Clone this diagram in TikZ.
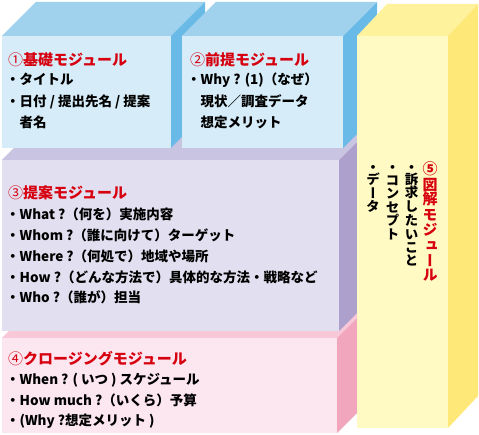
\documentclass[tikz,border=0pt]{standalone}
\usepackage{fontspec}
\newfontfamily\jp{Noto Sans CJK JP}
\newfontfamily\vjp{Noto Sans CJK JP}[RawFeature=+vert]
\makeatletter
\newcommand\tate[1]{\vbox{\offinterlineskip\@tfor\tatech:=#1\do{\hbox to 1em{\hss\vbox to 1em{\vss\hbox{\tatech}\kern0.12em}\hss}}}}
\makeatother
\newcommand\circnum[1]{{\mdseries #1}}
\definecolor{titred}{HTML}{D7000F}
\definecolor{bfront}{HTML}{D6EDF9}
\definecolor{btop}{HTML}{A0D1ED}
\definecolor{bside}{HTML}{6ABAE8}
\definecolor{lfront}{HTML}{E2E0F0}
\definecolor{ltop}{HTML}{C9C4E2}
\definecolor{lside}{HTML}{AEA0CC}
\definecolor{pfront}{HTML}{FCE6F0}
\definecolor{ptop}{HTML}{F8C8D8}
\definecolor{pside}{HTML}{F2A6BE}
\definecolor{yfront}{HTML}{FFFAC4}
\definecolor{ytop}{HTML}{FEF29C}
\definecolor{yside}{HTML}{FEE878}
\tikzset{
  ttl/.style={anchor=base west, inner sep=0pt, text=titred, font=\jp\bfseries\fontsize{15}{18}\selectfont},
  itm/.style={anchor=base west, inner sep=0pt, text=black, font=\jp\bfseries\fontsize{13.5}{16}\selectfont},
  vttl/.style={anchor=north, inner sep=0pt, text=titred, font=\vjp\bfseries\fontsize{15}{15}\selectfont},
  vitm/.style={anchor=north, inner sep=0pt, text=black, font=\vjp\bfseries\fontsize{13.5}{13.5}\selectfont},
}
\begin{document}
\begin{tikzpicture}[x=1pt,y=-1pt]
\useasboundingbox (0,0) rectangle (479,435);
% box 4 (pink)
\fill[ptop] (2,338) -- (337,338) -- (370,305) -- (35,305) -- cycle;
\fill[pside] (337,338) -- (370,305) -- (370,400) -- (337,433) -- cycle;
\fill[pfront] (2,338) rectangle (337,433);
% box 3 (lavender)
\fill[ltop] (2,160) -- (339,160) -- (372,127) -- (35,127) -- cycle;
\fill[lside] (339,160) -- (372,127) -- (372,298) -- (339,331) -- cycle;
\fill[lfront] (2,160) rectangle (339,331);
% box 1 (blue)
\fill[btop] (2,36) -- (171,36) -- (205,2) -- (36,2) -- cycle;
\fill[bside] (171,36) -- (205,2) -- (205,114) -- (171,148) -- cycle;
\fill[bfront] (2,36) rectangle (171,148);
% box 2 (blue)
\fill[btop] (182,36) -- (343,36) -- (377,2) -- (216,2) -- cycle;
\fill[bside] (343,36) -- (377,2) -- (377,114) -- (343,148) -- cycle;
\fill[bfront] (182,36) rectangle (343,148);
% column 5 (yellow)
\fill[ytop] (357,36) -- (448,36) -- (478,4) -- (387,4) -- cycle;
\fill[yside] (448,36) -- (478,4) -- (478,396) -- (448,428) -- cycle;
\fill[yfront] (357,36) rectangle (448,428);
% texts box 1
\node[ttl] (t1) at (8,65.5) {\circnum{①}基礎モジュール};
\node[itm] (a1) at (6,85) {・タイトル};
\node[itm] (a2) at (6,106.5) {・日付 / 提出先名 / 提案};
\node[itm] (a3) at (19.5,128) {者名};
% box 2
\node[ttl] (t2) at (190,65.5) {\circnum{②}前提モジュール};
\node[itm] (b1) at (187,85) {・Why ? (1)（なぜ）};
\node[itm] (b2) at (200.5,106.5) {現状／調査データ};
\node[itm] (b3) at (200.5,128) {想定メリット};
% box 3
\node[ttl] (t3) at (8,199) {\circnum{③}提案モジュール};
\node[itm] (c1) at (6,220) {・What ?（何を）実施内容};
\node[itm] (c2) at (6,241) {・Whom ?（誰に向けて）ターゲット};
\node[itm] (c3) at (6,262) {・Where ?（何処で）地域や場所};
\node[itm] (c4) at (6,282.5) {・How ?（どんな方法で）具体的な方法・戦略など};
\node[itm] (c5) at (6,303) {・Who ?（誰が）担当};
% box 4
\node[ttl] (t4) at (8,364) {\circnum{④}クロージングモジュール};
\node[itm] (d1) at (6,384.5) {・When ? ( いつ ) スケジュール};
\node[itm] (d2) at (6,405) {・How much ?（いくら）予算};
\node[itm] (d3) at (6,425.5) {・(Why ?想定メリット )};
% column 5 vertical texts
\node[vttl] (t5) at (430,163) {\tate{⑤図解モジュール}};
\node[vitm] (e1) at (411.5,160) {\tate{・訴求したいこと}};
\node[vitm] (e2) at (392.5,160) {\tate{・コンセプト}};
\node[vitm] (e3) at (373,160) {\tate{・データ}};
\end{tikzpicture}
\end{document}
